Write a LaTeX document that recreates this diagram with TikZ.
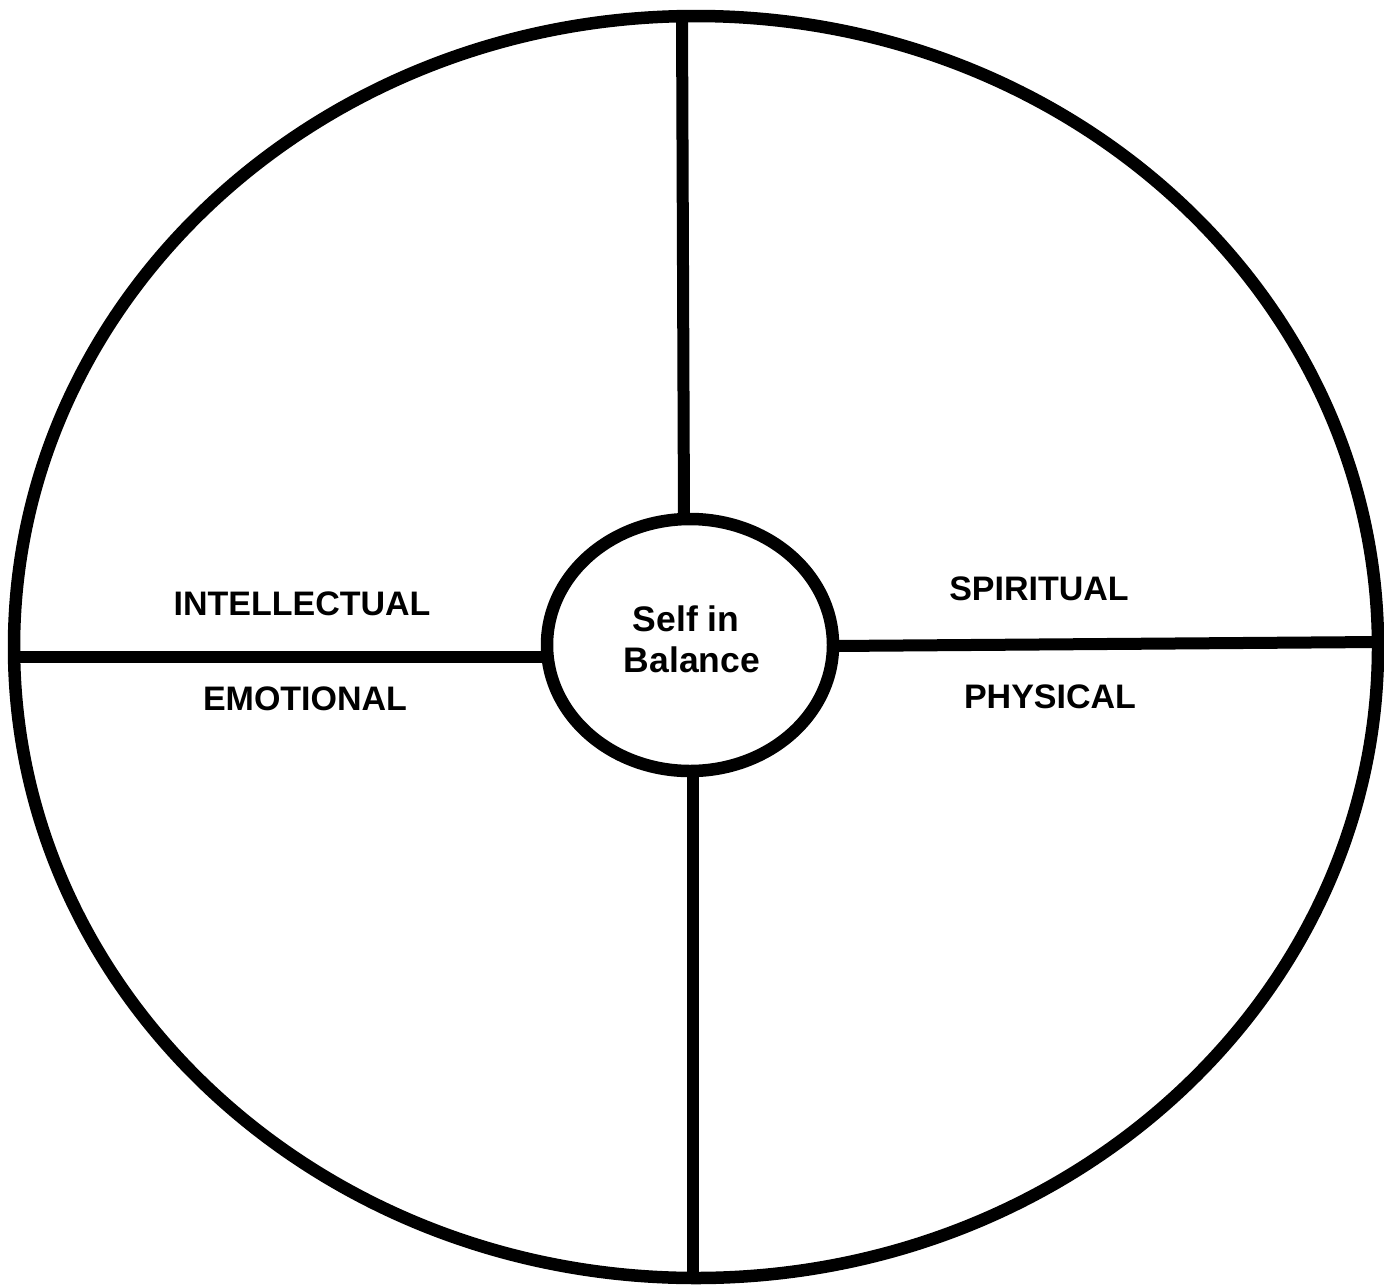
\documentclass[tikz,border=0pt]{standalone}
\usepackage{fontspec}
\setmainfont{Liberation Sans}
\begin{document}
\begin{tikzpicture}[x=1pt,y=-1pt,
  ring/.style={line width=12.5pt},
  spoke/.style={line width=12pt},
  lab/.style={font=\fontsize{34}{40}\selectfont\bfseries, anchor=base, inner sep=0pt},
  clab/.style={font=\fontsize{35.5}{42}\selectfont\bfseries, anchor=base, inner sep=0pt}]
\useasboundingbox (0,0) rectangle (1384,1285);
% outer and inner rings
\draw[ring] (696,647) ellipse [x radius=682, y radius=631];
\draw[ring] (690,645) ellipse [x radius=143, y radius=126];
% spoke end points
\coordinate (topO) at (682,16);
\coordinate (topI) at (684,519);
\coordinate (botI) at (693,771);
\coordinate (botO) at (693,1279);
\coordinate (leftO) at (14,657);
\coordinate (leftI) at (547,657);
\coordinate (rightI) at (834,646);
\coordinate (rightO) at (1378,642);
\draw[spoke] (topO) -- (topI);
\draw[spoke] (botI) -- (botO);
\draw[spoke] (leftO) -- (leftI);
\draw[spoke] (rightI) -- (rightO);
% labels
\node[lab] (intel) at (302,615) {INTELLECTUAL};
\node[lab] (emo) at (305,710) {EMOTIONAL};
\node[lab] (spir) at (1039,600) {SPIRITUAL};
\node[lab] (phys) at (1050,708) {PHYSICAL};
\node[clab] (self) at (686,631) {Self in};
\node[clab] (bal) at (692,672) {Balance};
\end{tikzpicture}
\end{document}
